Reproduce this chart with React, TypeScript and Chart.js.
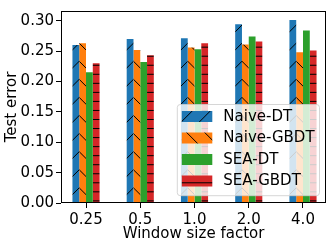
import React, { useEffect, useRef } from "react";
import { Chart, registerables } from "chart.js";

Chart.register(...registerables);

const categories = ["0.25", "0.5", "1.0", "2.0", "4.0"];
const seriesNames = ["Naive-DT", "Naive-GBDT", "SEA-DT", "SEA-GBDT"];
const naiveDT = [0.26, 0.27, 0.271, 0.294, 0.301];
const naiveGBDT = [0.263, 0.252, 0.256, 0.261, 0.248];
const seaDT = [0.215, 0.232, 0.253, 0.274, 0.284];
const seaGBDT = [0.23, 0.243, 0.263, 0.266, 0.251];
const yTicks = [0, 0.05, 0.1, 0.15, 0.2, 0.25, 0.3];

const colors = ["#1f77b4", "#ff7f0e", "#2ca02c", "#d62728"];
const hatches = ["/", "\\", "", "-"];
const FONT = "DejaVu Sans";

function makePattern(color: string, hatch: string): CanvasPattern | string {
  if (!hatch) return color;
  const T = 217;
  const s = T / 12;
  const c = document.createElement("canvas");
  c.width = T;
  c.height = T;
  const g = c.getContext("2d")!;
  g.fillStyle = color;
  g.fillRect(0, 0, T, T);
  g.strokeStyle = "#000";
  g.lineWidth = 1;
  g.beginPath();
  if (hatch === "/") {
    const a = 13.88;
    for (let k = -2; k <= 26; k++) {
      const cc = k * s + a;
      g.moveTo(cc + 2, -2);
      g.lineTo(cc - T - 2, T + 2);
    }
  } else if (hatch === "\\") {
    const b = -0.12;
    for (let k = -14; k <= 14; k++) {
      const d = k * s + b;
      g.moveTo(d - 2, -2);
      g.lineTo(d + T + 2, T + 2);
    }
  } else {
    for (let k = 0; k < 24; k++) {
      const y = 1.96 + k * (s / 2);
      g.moveTo(0, y);
      g.lineTo(T, y);
    }
  }
  g.stroke();
  const pat = g.createPattern(c, "repeat");
  return pat || color;
}

export default function App() {
  const ref = useRef<HTMLCanvasElement | null>(null);
  useEffect(() => {
    if (!ref.current) return;
    const values = [naiveDT, naiveGBDT, seaDT, seaGBDT];
    const fills = colors.map((c, i) => makePattern(c, hatches[i]));

    const framePlugin = {
      id: "frame",
      afterDatasetsDraw(chart: any) {
        const { ctx, chartArea } = chart;
        const l = Math.round(chartArea.left) + 0.5;
        const r = Math.round(chartArea.right) - 0.5;
        const t = Math.round(chartArea.top) + 0.5;
        const b = Math.round(chartArea.bottom) - 0.5;
        ctx.save();
        ctx.strokeStyle = "#000";
        ctx.lineWidth = 1;
        ctx.strokeRect(l, t, r - l, b - t);
        ctx.restore();
      },
      afterDraw(chart: any) {
        const { ctx, chartArea } = chart;
        const right = chartArea.right - 6.5;
        const bottom = chartArea.bottom - 7.3;
        const w = 142.2;
        const h = 91.2;
        const left = right - w;
        const top = bottom - h;
        ctx.save();
        ctx.beginPath();
        (ctx as any).roundRect(left, top, w, h, 3);
        ctx.fillStyle = "rgba(255,255,255,0.8)";
        ctx.fill();
        ctx.strokeStyle = "rgba(204,204,204,0.8)";
        ctx.lineWidth = 1;
        ctx.stroke();
        ctx.font = `15px "${FONT}"`;
        ctx.textBaseline = "middle";
        ctx.textAlign = "left";
        chart.data.datasets.forEach((ds: any, i: number) => {
          const cy = top + 12 + i * 21.5;
          const hx = left + 4.5;
          const hw = 30.5;
          const hh = 11;
          ctx.fillStyle = ds.backgroundColor;
          ctx.fillRect(hx, cy - hh / 2, hw, hh);
          ctx.fillStyle = "#000";
          ctx.fillText(ds.label, left + 46, cy + 0.5);
        });
        ctx.restore();
      },
    };

    const chart = new Chart(ref.current, {
      type: "bar",
      data: {
        datasets: seriesNames.map((name, i) => ({
          label: name,
          data: values[i].map((v, j) => ({ x: j, y: v })),
          backgroundColor: fills[i] as any,
          borderWidth: 0,
          categoryPercentage: 0.5,
          barPercentage: 1.0,
        })),
      },
      options: {
        animation: false,
        responsive: false,
        devicePixelRatio: 1,
        layout: { padding: { left: 0, top: 5, right: 7, bottom: 0 } },
        plugins: {
          legend: { display: false },
          tooltip: { enabled: false },
        },
        scales: {
          x: {
            type: "linear",
            offset: false,
            min: -0.461,
            max: 4.424,
            afterBuildTicks: (axis: any) => {
              axis.ticks = categories.map((_, i) => ({ value: i }));
            },
            afterFit: (axis: any) => {
              axis.height = 43;
            },
            ticks: {
              autoSkip: false,
              maxRotation: 0,
              padding: 3,
              color: "#000",
              font: { family: FONT, size: 15 },
              callback: (v: any) => categories[Math.round(Number(v))],
            },
            grid: {
              display: true,
              drawOnChartArea: false,
              drawTicks: true,
              tickLength: 5,
              color: "#000",
              offset: false,
            },
            border: { display: false },
            title: {
              display: true,
              text: "Window size factor",
              color: "#000",
              font: { family: FONT, size: 15 },
              padding: { top: 0, bottom: 3 },
            },
          },
          y: {
            min: 0,
            max: 0.316,
            afterBuildTicks: (axis: any) => {
              axis.ticks = yTicks.map((v) => ({ value: v }));
            },
            afterFit: (axis: any) => {
              axis.width = 61;
            },
            ticks: {
              includeBounds: false,
              padding: 2,
              color: "#000",
              font: { family: FONT, size: 15 },
              callback: (v: any) => Number(v).toFixed(2),
            },
            grid: {
              display: true,
              drawOnChartArea: false,
              drawTicks: true,
              tickLength: 5,
              color: "#000",
            },
            border: { display: false },
            title: {
              display: true,
              text: "Test error",
              color: "#000",
              font: { family: FONT, size: 15 },
              padding: { top: 3, bottom: 0 },
            },
          },
        },
      },
      plugins: [framePlugin],
    });
    return () => chart.destroy();
  }, []);

  return (
    <div style={{ position: "fixed", left: 0, top: 0, width: 333, height: 246, background: "#fff" }}>
      <canvas ref={ref} width={333} height={246} />
    </div>
  );
}
